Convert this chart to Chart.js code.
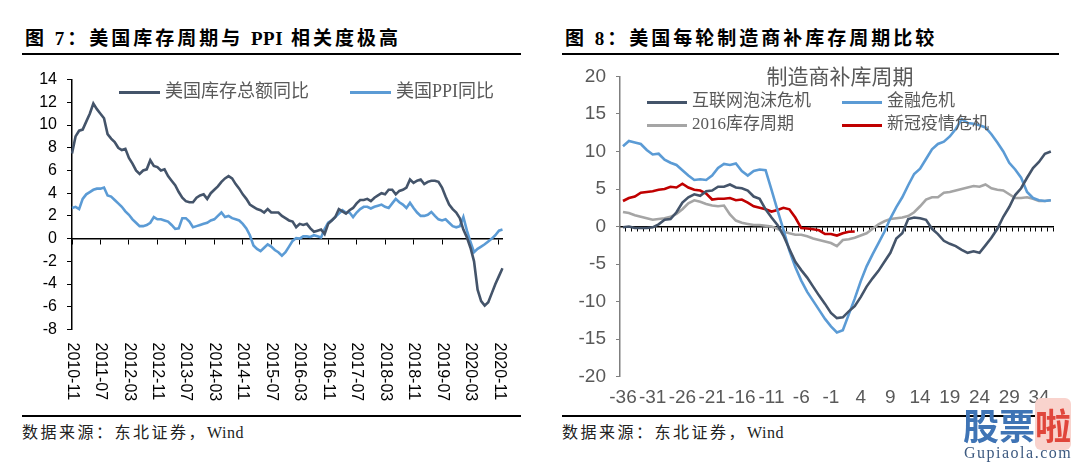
<!DOCTYPE html>
<html>
<head>
<meta charset="utf-8">
<script src="https://cdn.jsdelivr.net/npm/chart.js@4.4.1/dist/chart.umd.min.js"></script>
<style>
  html, body { margin: 0; padding: 0; background: #fff; }
  body { width: 1080px; height: 465px; position: relative; overflow: hidden; }
  .abs { position: absolute; white-space: nowrap; }
  .title { font-family: "Liberation Serif", "Noto Sans CJK SC", serif; font-weight: bold; font-size: 19px; letter-spacing: 3px; line-height: 20px; color: #000; }
  .lat { letter-spacing: 0.5px; }
  .rule { position: absolute; height: 2px; background: #000; }
  .src { font-family: "Liberation Serif", "Noto Sans CJK SC", serif; font-size: 16px; letter-spacing: 2.5px; line-height: 18px; color: #222; }
  .lg { font-family: "Liberation Serif", "Noto Sans CJK SC", serif; color: #595959; line-height: 20px; }
  .sw { display: inline-block; height: 3px; vertical-align: middle; margin-right: 5px; }
  canvas { position: absolute; }
</style>
</head>
<body>
<div class="abs title" style="left:25px;top:29px">图 7：美国库存周期与 <span class="lat">PPI</span> 相关度极高</div>
<div class="abs title" style="left:565px;top:29px">图 8：美国每轮制造商补库存周期比较</div>
<div class="rule" style="left:22px;top:53px;width:499px"></div>
<div class="rule" style="left:562px;top:53px;width:497px"></div>
<div class="rule" style="left:22px;top:415px;width:499px"></div>
<div class="rule" style="left:562px;top:415px;width:497px"></div>
<div class="abs src" style="left:22px;top:424px">数据来源：东北证券，<span class="lat">Wind</span></div>
<div class="abs src" style="left:562px;top:424px">数据来源：东北证券，<span class="lat">Wind</span></div>

<canvas id="c1" width="540" height="360" style="left:0;top:60px"></canvas>
<canvas id="c2" width="540" height="355" style="left:540px;top:55px"></canvas>

<div id="legends"></div>
<div class="abs lg" style="left:840px;top:65px;font-size:21px;line-height:24px;transform:translateX(-50%)">制造商补库周期</div>

<div class="abs" style="left:963px;top:404px;font-family:'Noto Sans CJK SC';font-weight:bold;font-size:36px;line-height:40px;color:#3f74b5">股票<span style="color:#e0463b;background:#f9d3cd;border-radius:6px">啦</span></div>
<div class="abs" style="left:964px;top:444px;font-family:'Liberation Serif';font-size:16px;letter-spacing:1.5px;line-height:18px;color:#3d5a80">Gupiaola.com</div>

<script>
  // ---- Figure 7: US inventory vs PPI, monthly 2010-11 .. 2020-12 ----
  const monthLabels = [];
  for (let i = 0; i < 122; i++) {
    const m = 10 + i; // 0-based month starting Nov 2010
    const y = 2010 + Math.floor(m / 12);
    const mm = (m % 12) + 1;
    monthLabels.push(y + "-" + (mm < 10 ? "0" + mm : mm));
  }

  const inventoryYoY = [
    7.5, 9.0, 9.5, 9.6, 10.3, 11.0, 11.9, 11.4, 11.0, 10.6,
    9.2, 8.8, 8.5, 8.0, 7.8, 7.9, 7.1, 6.6, 6.0, 5.7,
    6.0, 6.1, 6.9, 6.4, 6.3, 6.0, 6.1, 5.5, 5.1, 4.7,
    4.1, 3.6, 3.3, 3.2, 3.2, 3.6, 3.8, 3.9, 3.5, 4.0,
    4.3, 4.6, 5.0, 5.3, 5.5, 5.3, 4.8, 4.4, 3.9, 3.5,
    3.0, 2.8, 2.6, 2.5, 2.3, 2.6, 2.3, 2.3, 2.3, 2.0,
    1.8, 1.6, 1.5, 1.0, 1.3, 1.2, 1.3, 0.9, 0.6, 0.7,
    0.8, 0.4, 1.3, 1.6, 1.9, 2.6, 2.4, 2.2, 2.5, 2.7,
    3.1, 3.4, 3.4, 3.5, 3.3, 3.6, 3.8, 4.0, 3.9, 4.3,
    4.3, 3.9, 4.2, 4.3, 4.5, 5.2, 4.9, 5.1, 5.2, 4.8,
    5.0, 5.1, 5.1, 5.0, 4.5, 3.7, 3.0, 2.6, 2.3, 1.8,
    0.8, 0.1, -0.8, -2.0, -4.5, -5.5, -5.9, -5.6, -4.8, -4.0,
    -3.3, -2.6
  ];
  const ppiYoY = [
    2.7, 2.8, 2.6, 3.5, 3.9, 4.1, 4.3, 4.4, 4.4, 4.5,
    3.8, 3.7, 3.4, 3.1, 2.8, 2.4, 2.1, 1.7, 1.4, 1.1,
    1.1, 1.2, 1.4, 1.9, 1.7, 1.7, 1.6, 1.5, 1.2, 0.85,
    0.9, 1.8, 1.8, 1.5, 1.0, 1.1, 1.2, 1.3, 1.4, 1.6,
    1.7, 2.0, 2.3, 1.9, 2.0, 1.8, 1.7, 1.6, 1.3, 0.9,
    0.3, -0.6, -0.9, -1.1, -0.8, -0.5, -0.7, -1.0, -1.2, -1.5,
    -1.2, -0.7, -0.2, 0.05, 0.0, 0.2, 0.2, 0.15, 0.3, 0.2,
    0.1, 0.85, 1.4, 1.6, 1.9, 2.2, 2.5, 2.3, 2.3, 1.9,
    2.3, 2.6, 2.8, 2.8, 2.65, 2.8, 2.9, 3.0, 2.8, 2.7,
    3.1, 3.5, 3.2, 3.0, 2.7, 3.15, 2.7, 2.3, 2.0, 2.0,
    2.1, 2.35, 2.0, 1.7, 1.6, 1.7, 1.4, 1.1, 1.0, 1.1,
    1.9, 0.7, -0.3, -1.2, -0.9, -0.7, -0.5, -0.25, 0.0, 0.3,
    0.7, 0.8
  ];
  const fig7Names = ["美国库存总额同比", "美国PPI同比"];
  const fig7Colors = ["#44546A", "#5B9BD5"];

  // ---- Figure 8: manufacturers' restocking cycles, months -36 .. 36 ----
  const cycleMonths = [];
  for (let c = -36; c <= 36; c++) cycleMonths.push(String(c));

  const dotcomCrisis = [
    -0.1, 0, -0.2, -0.2, -0.2, -0.1, 0.3, 0.9, 1.0, 1.9,
    3.2, 3.9, 4.3, 4.1, 4.7, 4.8, 5.3, 5.3, 5.6, 5.2,
    5.1, 4.8, 4.0, 3.7, 2.3, 1.2, 0.2, -1.2, -3.0, -4.7,
    -5.8, -6.8, -8.0, -9.2, -10.3, -11.5, -12.2, -12.1, -11.3, -10.6,
    -9.4, -8.0, -6.9, -5.9, -4.7, -3.5, -1.6, -0.9, 1.0, 1.2,
    1.1, 0.9, -0.3, -1.0, -1.9, -2.3, -2.6, -3.1, -3.5, -3.3,
    -3.5, -2.5, -1.5, -0.3, 1.3, 2.6, 4.2, 5.1, 6.5, 7.8,
    8.6, 9.7, 10.0
  ];
  const financialCrisis = [
    10.7, 11.4, 11.2, 11.0, 10.2, 9.6, 9.7, 8.9, 8.5, 8.2,
    7.5, 6.8, 6.2, 6.3, 6.2, 6.8, 7.8, 8.35, 8.2, 8.4,
    7.4, 6.8, 7.4, 7.6, 7.5, 4.9, 2.2, -0.4, -3.2, -5.4,
    -7.2, -8.7, -9.9, -11.1, -12.3, -13.3, -14.1, -13.8, -11.7, -9.6,
    -7.3, -5.3, -3.7, -2.2, -0.7, 1.1, 2.6, 3.9, 5.5, 7.0,
    7.7, 9.0, 10.3, 11.0, 11.3, 12.0, 13.0, 14.3, 13.8, 13.7,
    13.5, 13.2, 12.3, 11.2, 10.0, 8.5, 7.6, 6.5, 4.6, 3.8,
    3.5, 3.4, 3.5
  ];
  const cycle2016 = [
    1.95, 1.8, 1.5, 1.3, 1.1, 0.9, 1.0, 1.1, 1.3, 1.7,
    2.3, 3.1, 3.5, 3.3, 3.0, 2.8, 2.7, 2.8, 1.6, 0.8,
    0.5, 0.35, 0.2, 0.2, 0.1, 0.0, -0.3, -0.65, -0.9, -1.1,
    -1.1, -1.3, -1.6, -1.8, -2.0, -2.2, -2.6, -1.8, -1.7, -1.5,
    -1.2, -0.9, -0.3, 0.3, 0.7, 1.0, 1.1, 1.2, 1.4, 1.9,
    2.7, 3.6, 3.9, 3.9, 4.5, 4.6, 4.8, 5.0, 5.2, 5.4,
    5.3, 5.6, 5.1, 4.9, 4.8, 4.3, 3.8, 3.8, 3.9, 3.7,
    3.4, 3.4, 3.5
  ];
  const covidCrisis = [
    3.4, 3.8, 4.0, 4.5, 4.6, 4.7, 4.9, 5.0, 5.3, 5.2,
    5.7, 5.2, 4.9, 4.8, 4.4, 3.6, 3.7, 3.7, 3.8, 3.5,
    3.6, 3.2, 2.7, 2.5, 2.3, 2.0, 2.2, 2.5, 2.3, 1.2,
    -0.2, -0.25, -0.35, -0.5, -1.0, -1.0, -1.2, -0.9, -0.7, -0.65
  ];
  const fig8Names = ["互联网泡沫危机", "金融危机", "2016库存周期", "新冠疫情危机"];
  const fig8Colors = ["#44546A", "#5B9BD5", "#A5A5A5", "#C00000"];

  // ---- html legends ----
  function addLegendItem(name, color, left, centerY, fontSize, swatchWidth) {
    const d = document.createElement("div");
    d.className = "abs lg";
    d.style.left = left + "px";
    d.style.top = (centerY - 10) + "px";
    d.style.fontSize = fontSize + "px";
    d.innerHTML = '<span class="sw" style="width:' + swatchWidth + 'px;background:' + color + '"></span>' + name;
    document.getElementById("legends").appendChild(d);
  }
  addLegendItem(fig7Names[0], fig7Colors[0], 119, 91, 18, 41);
  addLegendItem(fig7Names[1], fig7Colors[1], 350, 91, 18, 41);
  addLegendItem(fig8Names[0], fig8Colors[0], 647, 101, 17, 40);
  addLegendItem(fig8Names[1], fig8Colors[1], 842, 101, 17, 40);
  addLegendItem(fig8Names[2], fig8Colors[2], 647, 124, 17, 40);
  addLegendItem(fig8Names[3], fig8Colors[3], 842, 124, 17, 40);

  function lineSet(label, data, color) {
    return { label: label, data: data, borderColor: color, backgroundColor: color, borderWidth: 2.6, pointRadius: 0, tension: 0, fill: false };
  }

  // vertical date labels, reading top to bottom
  const verticalMonthLabels = {
    id: "verticalMonthLabels",
    afterDraw(chart) {
      const xs = chart.scales.x;
      const ctx = chart.ctx;
      const top = chart.chartArea.bottom + 13;
      ctx.save();
      ctx.font = '16px "Liberation Sans"';
      ctx.fillStyle = "#000";
      ctx.textAlign = "left";
      ctx.textBaseline = "middle";
      monthLabels.forEach(function (lab, i) {
        if (i % 8 !== 0) return;
        ctx.save();
        ctx.translate(xs.getPixelForValue(i), top);
        ctx.rotate(Math.PI / 2);
        ctx.fillText(lab, 0, 0);
        ctx.restore();
      });
      ctx.restore();
    }
  };

  new Chart(document.getElementById("c1"), {
    type: "line",
    data: {
      labels: monthLabels,
      datasets: [
        lineSet(fig7Names[0], inventoryYoY, fig7Colors[0]),
        lineSet(fig7Names[1], ppiYoY, fig7Colors[1])
      ]
    },
    options: {
      responsive: false,
      animation: false,
      layout: { padding: { top: 14.4, right: 37.5, bottom: 90.5, left: 0 } },
      plugins: { legend: { display: false }, tooltip: { enabled: false } },
      scales: {
        x: {
          type: "category",
          position: { y: 0 },
          offset: false,
          grid: {
            drawOnChartArea: false, drawTicks: true, tickLength: 5,
            tickColor: (c) => (c.index % 8 === 0 ? "#000" : "rgba(0,0,0,0)")
          },
          border: { display: true, color: "#000", width: 1.5 },
          ticks: { display: false, autoSkip: false }
        },
        y: {
          min: -8, max: 14,
          afterFit: (s) => { s.width = 72; },
          ticks: { stepSize: 2, color: "#000", font: { family: "Liberation Sans", size: 16 }, padding: 10 },
          grid: { drawOnChartArea: false, tickLength: 5, tickColor: "#000" },
          border: { color: "#000", width: 1.5 }
        }
      }
    },
    plugins: [verticalMonthLabels]
  });

  new Chart(document.getElementById("c2"), {
    type: "line",
    data: {
      labels: cycleMonths,
      datasets: [
        lineSet(fig8Names[0], dotcomCrisis, fig8Colors[0]),
        lineSet(fig8Names[1], financialCrisis, fig8Colors[1]),
        lineSet(fig8Names[2], cycle2016, fig8Colors[2]),
        lineSet(fig8Names[3], covidCrisis, fig8Colors[3])
      ]
    },
    options: {
      responsive: false,
      animation: false,
      layout: { padding: { top: 15, right: 26.2, bottom: 0, left: 0 } },
      plugins: { legend: { display: false }, tooltip: { enabled: false } },
      scales: {
        x: {
          type: "category",
          position: { y: 0 },
          offset: true,
          grid: { offset: true, drawOnChartArea: false, drawTicks: true, tickLength: 4, tickColor: "#000" },
          border: { display: true, color: "#000", width: 1.5 },
          ticks: { display: false, autoSkip: false }
        },
        xl: {
          type: "category",
          position: "bottom",
          offset: true,
          afterFit: (s) => { s.height = 33.3; },
          grid: { display: false, drawTicks: false },
          border: { display: false },
          ticks: {
            autoSkip: false, maxRotation: 0, minRotation: 0, padding: 10,
            color: "#595959", font: { family: "Liberation Sans", size: 19 },
            callback: function (value, index) { return index % 5 === 0 ? this.getLabelForValue(value) : ""; }
          }
        },
        y: {
          min: -20, max: 20,
          afterFit: (s) => { s.width = 80; },
          ticks: { stepSize: 5, color: "#595959", font: { family: "Liberation Sans", size: 19 }, padding: 10 },
          grid: { drawOnChartArea: false, tickLength: 4, tickColor: "#7f7f7f" },
          border: { color: "#7f7f7f", width: 1.5 }
        }
      }
    }
  });
</script>
</body>
</html>
